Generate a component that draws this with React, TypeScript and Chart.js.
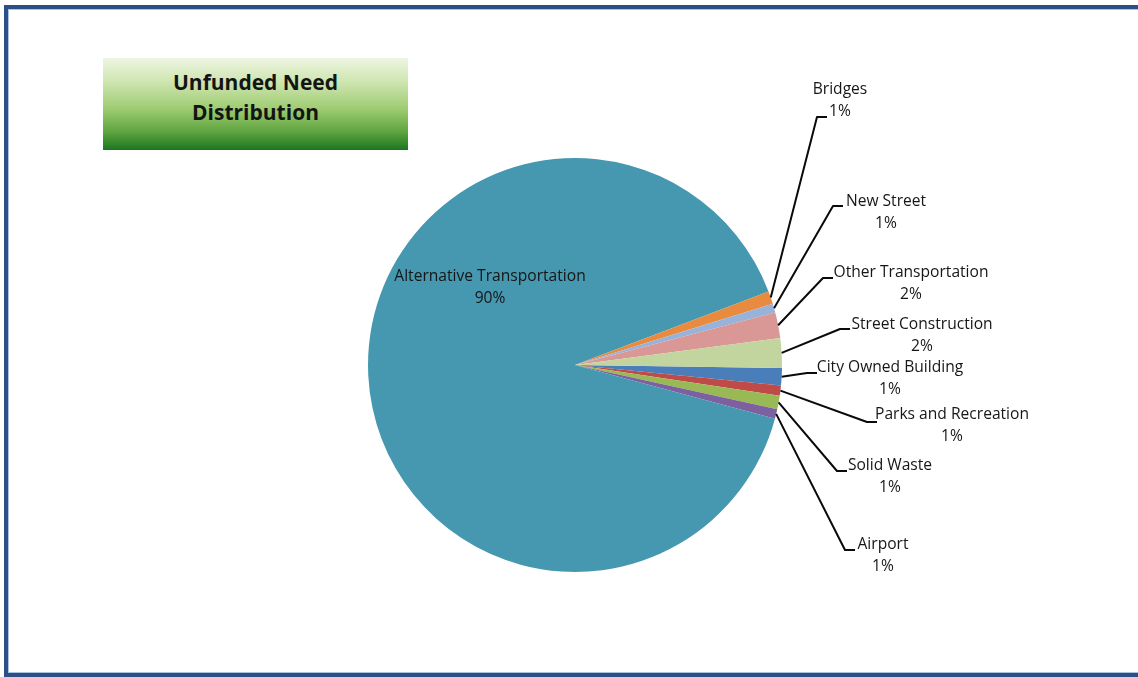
import React, { useEffect, useRef } from "react";
import { Chart, registerables } from "chart.js";

Chart.register(...registerables);

const categories = [
  "City Owned Building",
  "Parks and Recreation",
  "Solid Waste",
  "Airport",
  "Alternative Transportation",
  "Bridges",
  "New Street",
  "Other Transportation",
  "Street Construction",
];

const shares = [1.35, 0.8, 1.05, 0.75, 90.05, 1.0, 0.7, 2.0, 2.3];

const sliceColors = [
  "#4a7ebb",
  "#be4b48",
  "#98b954",
  "#7d60a0",
  "#4598b0",
  "#e88b3f",
  "#98b2da",
  "#d99795",
  "#c3d59f",
];

// label layout: text centre and leader elbow, as offsets from the pie centre
const labelLayout = [
  { tx: 315, ty: 3, ex: 232, ey: 8, leader: true },
  { tx: 377, ty: 50, ex: 292, ey: 57, leader: true },
  { tx: 315, ty: 101, ex: 262, ey: 106, leader: true },
  { tx: 308, ty: 180, ex: 270, ey: 185, leader: true },
  { tx: -85, ty: -88, ex: 0, ey: 0, leader: false },
  { tx: 265, ty: -275, ex: 242, ey: -248, leader: true },
  { tx: 311, ty: -163, ex: 258, ey: -159, leader: true },
  { tx: 336, ty: -92, ex: 248, ey: -87, leader: true },
  { tx: 347, ty: -40, ex: 265, ey: -36, leader: true },
];

const FONT = "'Open Sans', 'Noto Sans', sans-serif";

const calloutPlugin = {
  id: "callouts",
  afterDatasetsDraw(chart: any) {
    const ctx = chart.ctx;
    const meta = chart.getDatasetMeta(0);
    const data = chart.data.datasets[0].data as number[];
    const total = data.reduce((a: number, b: number) => a + b, 0);
    ctx.save();
    meta.data.forEach((arc: any, i: number) => {
      const p = arc.getProps(["x", "y", "startAngle", "endAngle", "outerRadius"], true);
      const lay = labelLayout[i];
      const cx = p.x;
      const cy = p.y;
      const mid = (p.startAngle + p.endAngle) / 2;
      if (lay.leader) {
        const sx = cx + Math.cos(mid) * p.outerRadius;
        const sy = cy + Math.sin(mid) * p.outerRadius;
        ctx.beginPath();
        ctx.strokeStyle = "#0a0a0a";
        ctx.lineWidth = 2;
        ctx.lineJoin = "round";
        ctx.moveTo(sx, sy);
        ctx.lineTo(cx + lay.ex, cy + lay.ey);
        ctx.lineTo(cx + lay.ex + 10, cy + lay.ey);
        ctx.stroke();
      }
      ctx.fillStyle = "#161616";
      ctx.font = `15.6px ${FONT}`;
      ctx.textAlign = "center";
      ctx.textBaseline = "middle";
      const pct = Math.round((data[i] / total) * 100) + "%";
      ctx.fillText(categories[i], cx + lay.tx, cy + lay.ty);
      ctx.fillText(pct, cx + lay.tx, cy + lay.ty + 22);
    });
    ctx.restore();
  },
};

export default function App() {
  const canvasRef = useRef<HTMLCanvasElement | null>(null);

  useEffect(() => {
    document.body.style.margin = "0";
    const canvas = canvasRef.current;
    if (!canvas) return;
    const chart = new Chart(canvas, {
      type: "pie",
      data: {
        labels: categories,
        datasets: [
          {
            data: shares,
            backgroundColor: sliceColors,
            borderWidth: 0,
          },
        ],
      },
      options: {
        responsive: false,
        animation: false,
        rotation: 90.8,
        layout: { padding: { left: 368, right: 356, top: 158, bottom: 105 } },
        plugins: {
          legend: { display: false },
          tooltip: { enabled: false },
          title: { display: false },
        },
      },
      plugins: [calloutPlugin],
    });
    return () => chart.destroy();
  }, []);

  return (
    <div
      style={{
        position: "fixed",
        left: 0,
        top: 0,
        width: 1138,
        height: 677,
        background: "#fff",
        overflow: "hidden",
      }}
    >
      <canvas
        ref={canvasRef}
        width={1138}
        height={677}
        style={{ position: "absolute", left: 0, top: 0 }}
      />
      <div
        style={{
          position: "absolute",
          left: 4,
          top: 5,
          width: 1150,
          height: 672,
          boxSizing: "border-box",
          border: "4px solid #2c4f86",
          boxShadow: "inset 0 0 0 1px #a9c3e0",
          pointerEvents: "none",
        }}
      />
      <div
        style={{
          position: "absolute",
          left: 103,
          top: 58,
          width: 305,
          height: 92,
          boxSizing: "border-box",
          paddingTop: 9,
          background:
            "linear-gradient(to bottom, #eef5e2 0%, #cfe6b2 25%, #9fcc72 55%, #5fa540 80%, #1c7620 100%)",
          display: "flex",
          flexDirection: "column",
          alignItems: "center",
          justifyContent: "flex-start",
          fontFamily: FONT,
          fontWeight: 700,
          fontSize: 21,
          lineHeight: "30px",
          color: "#141414",
          textAlign: "center",
        }}
      >
        <div>Unfunded Need</div>
        <div>Distribution</div>
      </div>
    </div>
  );
}
